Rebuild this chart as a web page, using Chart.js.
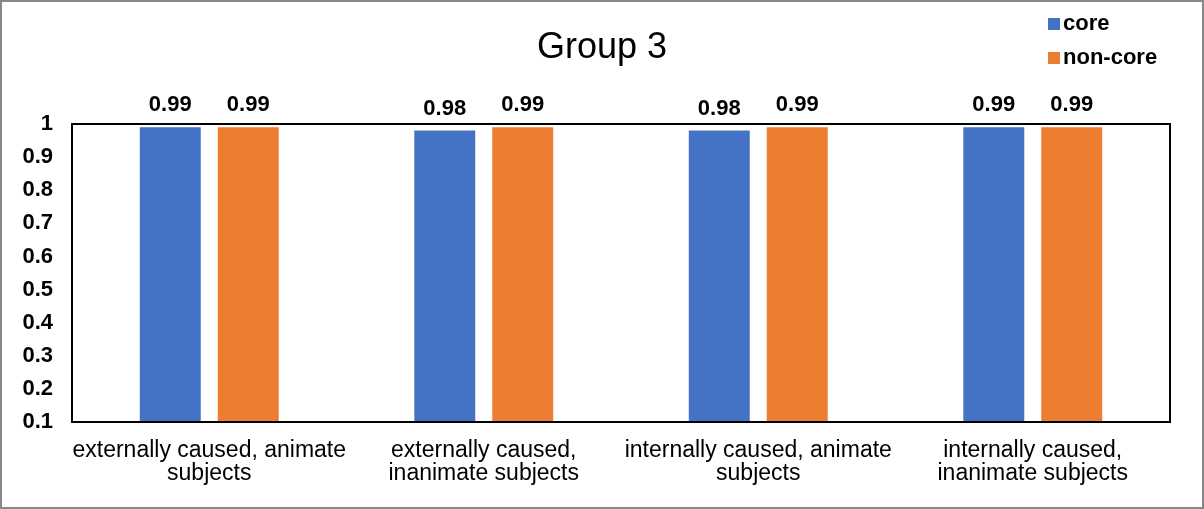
<!DOCTYPE html>
<html>
<head>
<meta charset="utf-8">
<script src="https://cdn.jsdelivr.net/npm/chart.js@4/dist/chart.umd.min.js"></script>
<style>
  html, body { margin: 0; padding: 0; background: #fff; overflow: hidden; }
  canvas { display: block; }
</style>
</head>
<body>
<canvas id="myChart" width="1204" height="509"></canvas>
<script>
// data
const chartTitle = 'Group 3';
const categories = [
  ['externally caused, animate', 'subjects'],
  ['externally caused,', 'inanimate subjects'],
  ['internally caused, animate', 'subjects'],
  ['internally caused,', 'inanimate subjects']
];
const seriesNames = ['core', 'non-core'];
const coreValues = [0.99, 0.98, 0.98, 0.99];
const nonCoreValues = [0.99, 0.99, 0.99, 0.99];
const yTicks = [0.1, 0.2, 0.3, 0.4, 0.5, 0.6, 0.7, 0.8, 0.9, 1];

const FONT = '"Liberation Sans", Arial, Helvetica, sans-serif';

// title, legend, value labels, the box round the plot and the outer frame
const extrasPlugin = {
  id: 'extras',
  afterDraw(chart) {
    const ctx = chart.ctx;
    const area = chart.chartArea;
    ctx.save();

    // outer frame
    ctx.strokeStyle = '#888';
    ctx.lineWidth = 2;
    ctx.strokeRect(1, 1, chart.width - 2, chart.height - 2);

    // box
    ctx.strokeStyle = '#000';
    ctx.lineWidth = 2;
    ctx.strokeRect(area.left, area.top, area.right - area.left, area.bottom - area.top);

    // title
    ctx.fillStyle = '#000';
    ctx.font = '36px ' + FONT;
    ctx.textAlign = 'center';
    ctx.textBaseline = 'alphabetic';
    ctx.fillText(chartTitle, 602, 58);

    // legend
    ctx.font = 'bold 22px ' + FONT;
    ctx.textAlign = 'left';
    chart.data.datasets.forEach((ds, i) => {
      const y = 24 + i * 34;
      ctx.fillStyle = ds.backgroundColor;
      ctx.fillRect(1048, y - 6, 12, 12);
      ctx.fillStyle = '#000';
      ctx.fillText(ds.label, 1063, y + 6);
    });

    // value labels
    ctx.font = 'bold 22px ' + FONT;
    ctx.textAlign = 'center';
    chart.data.datasets.forEach((ds, i) => {
      chart.getDatasetMeta(i).data.forEach((bar, j) => {
        ctx.fillText(ds.data[j].toFixed(2), bar.x, bar.y - 16);
      });
    });
    ctx.restore();
  }
};

document.addEventListener('DOMContentLoaded', function () {
  const ctx = document.getElementById('myChart').getContext('2d');
  new Chart(ctx, {
    type: 'bar',
    data: {
      labels: categories,
      datasets: [
        { label: seriesNames[0], data: coreValues, backgroundColor: '#4472C4' },
        { label: seriesNames[1], data: nonCoreValues, backgroundColor: '#ED7D31' }
      ]
    },
    options: {
      responsive: false,
      animation: false,
      layout: { padding: { top: 124, right: 34, left: 2, bottom: 0 } },
      datasets: { bar: { categoryPercentage: 0.568, barPercentage: 0.782 } },
      plugins: { legend: { display: false }, title: { display: false }, tooltip: { enabled: false } },
      scales: {
        x: {
          grid: { display: false, drawTicks: false },
          border: { display: false },
          ticks: { color: '#000', font: { family: FONT, size: 23, lineHeight: 1.0 }, padding: 17, maxRotation: 0, autoSkip: false },
          afterFit(scale) { scale.height = 87; }
        },
        y: {
          min: 0.1,
          max: 1,
          afterBuildTicks(scale) { scale.ticks = yTicks.map(v => ({ value: v })); },
          grid: { display: false, drawTicks: false },
          border: { display: false },
          ticks: {
            color: '#000',
            font: { family: FONT, size: 22, weight: 'bold' },
            padding: 19,
            callback: v => String(Math.round(v * 10) / 10)
          },
          afterFit(scale) { scale.width = 70; }
        }
      }
    },
    plugins: [extrasPlugin]
  });
});
</script>
</body>
</html>
